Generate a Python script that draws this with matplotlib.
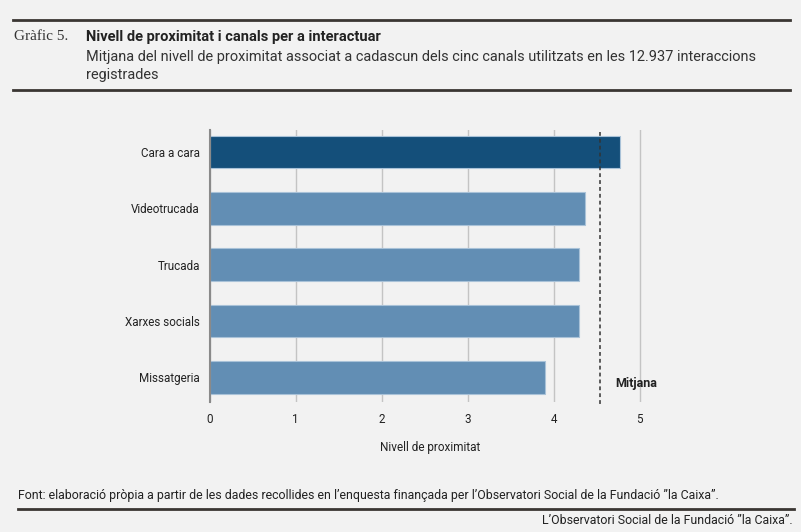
import matplotlib
matplotlib.use('Agg')
import matplotlib.pyplot as plt
from matplotlib.lines import Line2D

# dades llegides del gràfic
canals = ['Cara a cara', 'Videotrucada', 'Trucada', 'Xarxes socials', 'Missatgeria']
proximitat = [4.77, 4.36, 4.30, 4.29, 3.90]
mitjana = 4.54
ticks_x = [0, 1, 2, 3, 4, 5]

BG = '#f2f2f2'
FOSC = '#144f7a'
CLAR = '#628eb4'
TEXT = '#222222'

W, H = 801, 532
plt.rcParams['font.family'] = ['Roboto', 'DejaVu Sans']

fig = plt.figure(figsize=(W / 100, H / 100), dpi=100, facecolor=BG)


def px(x, y):
    """coordenades en píxels a coordenades de figura"""
    return x / W, 1 - y / H


def regla(x0, x1, y, lw=2.0):
    a, b = px(x0, y)
    c, _ = px(x1, y)
    fig.add_artist(Line2D([a, c], [b, b], color='#3a3633', lw=lw,
                          transform=fig.transFigure))


# capçalera
regla(13, 790, 20)
fig.text(*px(14, 37), 'Gràfic 5.', family=['Liberation Serif', 'DejaVu Serif'],
         fontsize=11, color='#333333', va='center', ha='left')
fig.text(*px(86, 37), 'Nivell de proximitat i canals per a interactuar',
         fontsize=10.5, fontweight='bold', color=TEXT, va='center', ha='left')
fig.text(*px(86, 57), 'Mitjana del nivell de proximitat associat a cadascun dels cinc '
         'canals utilitzats en les 12.937 interaccions',
         fontsize=10.43, color='#333333', va='center', ha='left')
fig.text(*px(86, 75), 'registrades', fontsize=10.43, color='#333333',
         va='center', ha='left')
regla(13, 790, 90)

# gràfic
ax = fig.add_axes([209.7 / W, 1 - 401.7 / H, (650 - 209.7) / W, (401.7 - 130) / H])
ax.set_facecolor(BG)
y = list(range(len(canals)))
colors = [FOSC] + [CLAR] * (len(canals) - 1)
ax.barh(y, proximitat, height=0.58, color=colors, edgecolor='#a9c2d8',
        linewidth=0.8, zorder=2)
ax.set_yticks(y)
ax.set_yticklabels(canals)
ax.set_ylim(4.43, -0.39)
ax.set_xlim(0, 5.12)
ax.set_xticks(ticks_x)
ax.set_xticklabels([str(t) for t in ticks_x])
ax.grid(axis='x', color='#c4c4c4', lw=1, zorder=0)
ax.tick_params(length=0, labelsize=8.4, colors=TEXT)
ax.tick_params(axis='x', pad=8)
ax.tick_params(axis='y', pad=7)
for s in ['top', 'right', 'bottom']:
    ax.spines[s].set_visible(False)
ax.spines['left'].set_color('#8a8a8a')
ax.spines['left'].set_linewidth(1.5)
ax.spines['left'].set_zorder(3)

ax.plot([mitjana, mitjana], [-0.35, 4.48], color='#333333', lw=1.1,
        ls=(0, (2.5, 2)), zorder=3, clip_on=False)
ax.text(mitjana + 0.18, 4.1, 'Mitjana', fontsize=9, fontweight='bold',
        color=TEXT, va='center', ha='left')

fig.text(*px(430, 448), 'Nivell de proximitat', fontsize=8.5, color=TEXT,
         ha='center', va='center')

# peu
peu_font = ['Liberation Sans Narrow', 'Roboto', 'DejaVu Sans']
fig.text(*px(18, 496), 'Font: elaboració pròpia a partir de les dades recollides en '
         'l’enquesta finançada per l’Observatori Social de la Fundació ”la Caixa”.',
         family=peu_font, fontsize=8.88, color=TEXT, ha='left', va='center')
regla(18, 794, 509)
fig.text(*px(793, 521), 'L’Observatori Social de la Fundació ”la Caixa”.',
         family=peu_font, fontsize=8.88, color=TEXT, ha='right', va='center')

fig.savefig('out.png', dpi=100, facecolor=BG)
